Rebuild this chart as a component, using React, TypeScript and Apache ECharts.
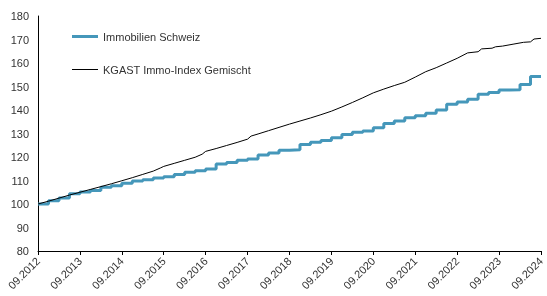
import React, { useEffect, useRef } from "react";
import * as echarts from "echarts";

const xTickLabels = ["09.2012", "09.2013", "09.2014", "09.2015", "09.2016", "09.2017", "09.2018", "09.2019", "09.2020", "09.2021", "09.2022", "09.2023", "09.2024"];

const seriesNames = ["Immobilien Schweiz", "KGAST Immo-Index Gemischt"];

// Quarterly values (every 3 months from 09.2012)
const blueQuarterValues = [100, 101.4, 102.6, 104.4, 105.1, 105.7, 107.1, 107.8, 108.8, 109.8, 110.3, 111.1, 111.6, 112.6, 113.5, 114.2, 114.9, 117.0, 117.7, 118.6, 119.1, 120.9, 121.7, 122.9, 123.1, 125.3, 126.3, 127.0, 128.2, 129.6, 130.5, 131.1, 132.5, 134.3, 135.3, 136.7, 137.6, 138.6, 140.0, 142.4, 143.4, 144.6, 146.7, 147.4, 148.5, 148.6, 150.9, 154.3, 154.4];

// Months since 09.2012 and index values
const blackMonths = [0, 3, 6, 9, 12, 15, 18, 21, 24, 27, 30, 33, 35, 36, 39, 42, 45, 47, 48, 51, 54, 57, 60, 61, 63, 66, 69, 72, 75, 78, 81, 84, 87, 90, 93, 96, 99, 102, 105, 108, 111, 114, 117, 120, 123, 126, 127, 130, 131, 133, 136, 139, 141, 142, 144];
const blackValues = [100, 101.2, 102.5, 103.8, 105.0, 106.2, 107.4, 108.6, 109.9, 111.2, 112.6, 114.0, 115.3, 116.0, 117.3, 118.6, 119.9, 121.2, 122.4, 123.6, 124.9, 126.2, 127.6, 128.9, 129.8, 131.2, 132.6, 134.0, 135.3, 136.6, 138.0, 139.5, 141.3, 143.2, 145.2, 147.3, 148.9, 150.4, 151.8, 154.0, 156.3, 158.0, 160.0, 162.0, 164.3, 164.8, 166.0, 166.3, 166.9, 167.2, 168.0, 168.8, 169.0, 170.2, 170.5];

const FONT = "Liberation Sans, Arial, sans-serif";
const BLUE = "#4597BA";

export default function App() {
  const ref = useRef<HTMLDivElement>(null);
  useEffect(() => {
    if (!ref.current) return;
    const chart = echarts.init(ref.current, undefined, { renderer: "svg" });
    const blueData = blueQuarterValues.map((v, i) => [i * 3, v]);
    const blackData = blackMonths.map((m, i) => [m, blackValues[i]]);
    const legendText = { fontSize: 11, color: "#333", fontFamily: FONT };
    chart.setOption({
      animation: false,
      grid: { left: 38, right: 1, top: 16, bottom: 45, containLabel: false },
      legend: [
        {
          orient: "vertical",
          left: 72,
          top: 31,
          padding: 0,
          icon: "rect",
          itemWidth: 26,
          itemHeight: 3,
          data: [seriesNames[0]],
          itemStyle: { color: BLUE },
          textStyle: legendText,
        },
        {
          orient: "vertical",
          left: 72,
          top: 64,
          padding: 0,
          icon: "rect",
          itemWidth: 26,
          itemHeight: 1,
          data: [seriesNames[1]],
          itemStyle: { color: "#000" },
          textStyle: legendText,
        },
      ],
      xAxis: {
        type: "value",
        min: 0,
        max: 144,
        interval: 12,
        splitLine: { show: false },
        axisLine: { lineStyle: { color: "#000", width: 1 } },
        axisTick: { show: true, length: 4, lineStyle: { color: "#000" } },
        axisLabel: {
          rotate: 45,
          margin: 8,
          fontSize: 11,
          color: "#333",
          fontFamily: FONT,
          formatter: (v: number) => xTickLabels[Math.round(v / 12)] ?? "",
        },
      },
      yAxis: {
        type: "value",
        min: 80,
        max: 180,
        interval: 10,
        splitLine: { show: false },
        axisLine: { show: true, lineStyle: { color: "#000", width: 1 } },
        axisTick: { show: false },
        axisLabel: { margin: 9, fontSize: 11, color: "#333", fontFamily: FONT },
      },
      series: [
        {
          name: seriesNames[0],
          type: "line",
          step: "end",
          data: blueData,
          symbol: "none",
          lineStyle: { color: BLUE, width: 3 },
          itemStyle: { color: BLUE },
        },
        {
          name: seriesNames[1],
          type: "line",
          data: blackData,
          symbol: "none",
          lineStyle: { color: "#000", width: 1 },
          itemStyle: { color: "#000" },
        },
      ],
    });
    return () => chart.dispose();
  }, []);
  return <div ref={ref} style={{ position: "fixed", left: 0, top: 0, width: 547, height: 296 }} />;
}
